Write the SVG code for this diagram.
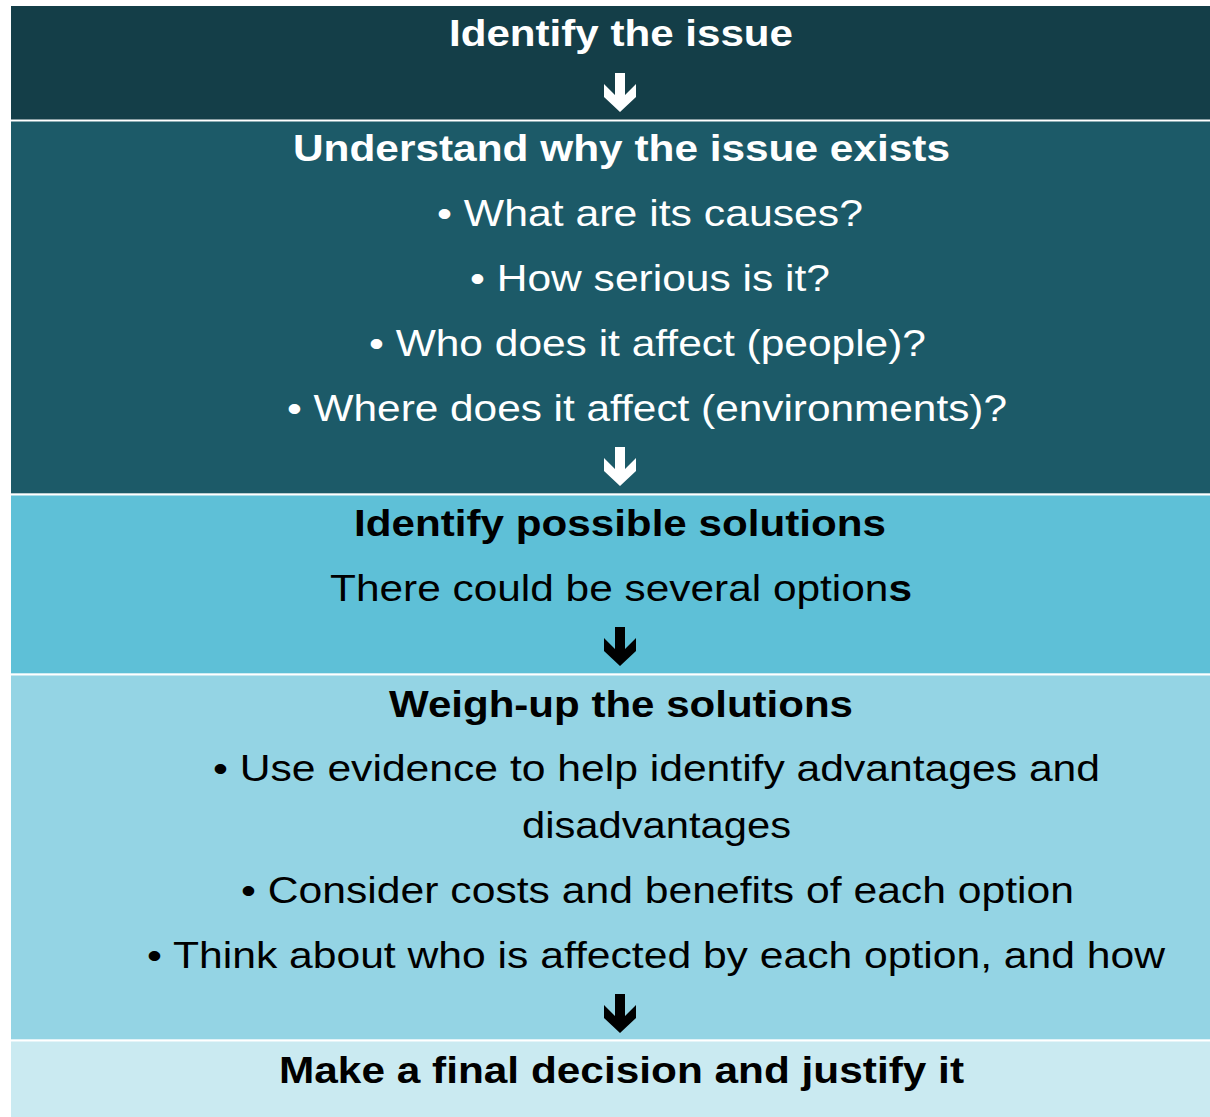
<svg xmlns="http://www.w3.org/2000/svg" width="1210" height="1117" viewBox="0 0 1210 1117">
<style>
.t{font-family:"Liberation Sans",Arial,sans-serif;font-size:37px;}
.b{font-weight:bold;}
.w{fill:#ffffff;}
.k{fill:#000000;}
</style>
<defs>
<path id="arr" d="M-5,0 H5 V22 L16,11 V24 L0,39 L-16,24 V11 L-5,22 Z"/>
</defs>
<rect width="1210" height="1117" fill="#ffffff"/>
<g id="node1">
<rect x="11" y="6" width="1199" height="113.5" fill="#143E48"/>
<text class="t b w" x="449" y="46" textLength="344" lengthAdjust="spacingAndGlyphs">Identify the issue</text>
</g>
<g id="node2">
<rect x="11" y="121.5" width="1199" height="371.8" fill="#1C5A68"/>
<text class="t b w" x="293" y="161" textLength="657" lengthAdjust="spacingAndGlyphs">Understand why the issue exists</text>
<text class="t w" x="437" y="226" textLength="426" lengthAdjust="spacingAndGlyphs">• What are its causes?</text>
<text class="t w" x="470" y="291" textLength="360" lengthAdjust="spacingAndGlyphs">• How serious is it?</text>
<text class="t w" x="369" y="356" textLength="557" lengthAdjust="spacingAndGlyphs">• Who does it affect (people)?</text>
<text class="t w" x="287" y="421" textLength="720" lengthAdjust="spacingAndGlyphs">• Where does it affect (environments)?</text>
</g>
<g id="node3">
<rect x="11" y="495.5" width="1199" height="177.8" fill="#5EC0D7"/>
<text class="t b k" x="354" y="536" textLength="532" lengthAdjust="spacingAndGlyphs">Identify possible solutions</text>
<text class="t k" x="330" y="601" textLength="582" lengthAdjust="spacingAndGlyphs">There could be several option<tspan class="b">s</tspan></text>
</g>
<g id="node4">
<rect x="11" y="675.5" width="1199" height="363.8" fill="#94D4E4"/>
<text class="t b k" x="389" y="717" textLength="464" lengthAdjust="spacingAndGlyphs">Weigh-up the solutions</text>
<text class="t k" x="213" y="781" textLength="887" lengthAdjust="spacingAndGlyphs">• Use evidence to help identify advantages and</text>
<text class="t k" x="522" y="838" textLength="269" lengthAdjust="spacingAndGlyphs">disadvantages</text>
<text class="t k" x="241" y="903" textLength="833" lengthAdjust="spacingAndGlyphs">• Consider costs and benefits of each option</text>
<text class="t k" x="147" y="968" textLength="1018" lengthAdjust="spacingAndGlyphs">• Think about who is affected by each option, and how</text>
</g>
<g id="node5">
<rect x="11" y="1041.5" width="1199" height="75.5" fill="#CAEAF1"/>
<text class="t b k" x="279" y="1083" textLength="685" lengthAdjust="spacingAndGlyphs">Make a final decision and justify it</text>
</g>
<g id="connectors">
<use href="#arr" x="620" y="73" fill="#ffffff"/>
<use href="#arr" x="620" y="447" fill="#ffffff"/>
<use href="#arr" x="620" y="627" fill="#000000"/>
<use href="#arr" x="620" y="994" fill="#000000"/>
</g>
</svg>
